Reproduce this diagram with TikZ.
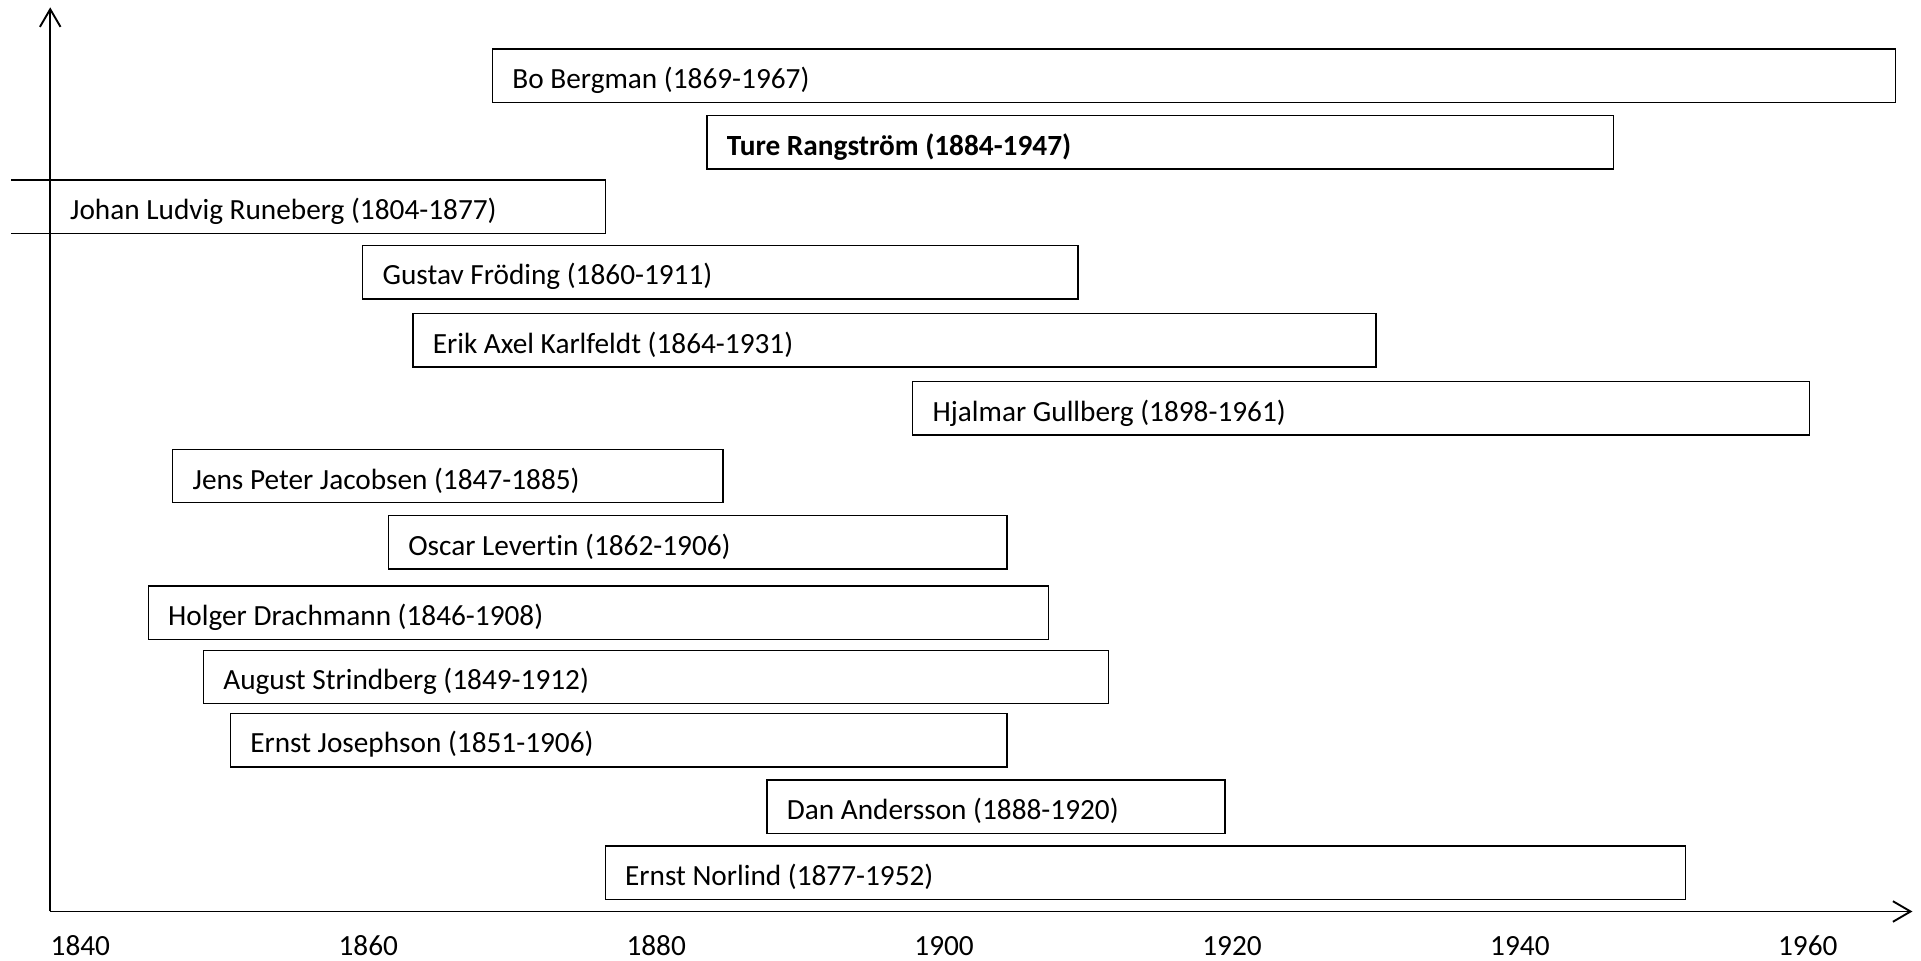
\documentclass[tikz,border=0pt]{standalone}
\usepackage{fontspec}
\setmainfont{Carlito}[Ligatures=NoCommon]
\usetikzlibrary{arrows.meta}

\begin{document}
\begin{tikzpicture}[
  lifebox/.style={line width=0.8pt},
  poet/.style={anchor=west, inner sep=0pt, yshift=-0.09cm, font=\fontsize{17}{20}\selectfont},
  year/.style={font=\fontsize{17}{20}\selectfont},
  axis/.style={line width=1.1pt, -{Straight Barb[length=3.6mm,width=4.2mm]}}
]
\useasboundingbox (-1.025,-1) rectangle (38.175,18.6);
% axes
\coordinate (o) at (0,0);
\coordinate (xend) at (38.0,0);
\coordinate (yend) at (0,18.45);
\draw[axis] (o) -- (xend);
\draw[axis] (o) -- (yend);
% years
\node[year] (y1840) at (0.615,-0.7) {1840};
\node[year] (y1860) at (6.49,-0.7) {1860};
\node[year] (y1880) at (12.365,-0.7) {1880};
\node[year] (y1900) at (18.24,-0.7) {1900};
\node[year] (y1920) at (24.115,-0.7) {1920};
\node[year] (y1940) at (29.99,-0.7) {1940};
\node[year] (y1960) at (35.865,-0.7) {1960};
% life spans
\draw[lifebox] (9.025,16.51) rectangle (37.65,17.6);
\node[poet] (bergman) at (9.425,17.055) {Bo Bergman (1869-1967)};
\draw[lifebox] (13.4,15.15) rectangle (31.9,16.24);
\node[poet] (rangstrom) at (13.8,15.695) {\bfseries Ture Rangström (1884-1947)};
\draw[lifebox] (-0.8,14.93) -- (11.325,14.93) -- (11.325,13.84) -- (-0.8,13.84);
\node[poet] (runeberg) at (0.4,14.385) {Johan Ludvig Runeberg (1804-1877)};
\draw[lifebox] (6.375,12.5) rectangle (20.975,13.59);
\node[poet] (froding) at (6.775,13.045) {Gustav Fröding (1860-1911)};
\draw[lifebox] (7.4,11.11) rectangle (27.05,12.2);
\node[poet] (karlfeldt) at (7.8,11.655) {Erik Axel Karlfeldt (1864-1931)};
\draw[lifebox] (17.6,9.72) rectangle (35.9,10.81);
\node[poet] (gullberg) at (18.0,10.265) {Hjalmar Gullberg (1898-1961)};
\draw[lifebox] (2.5,8.34) rectangle (13.725,9.43);
\node[poet] (jacobsen) at (2.9,8.885) {Jens Peter Jacobsen (1847-1885)};
\draw[lifebox] (6.9,6.99) rectangle (19.525,8.08);
\node[poet] (levertin) at (7.3,7.535) {Oscar Levertin (1862-1906)};
\draw[lifebox] (2.0,5.55) rectangle (20.375,6.64);
\node[poet] (drachmann) at (2.4,6.095) {Holger Drachmann (1846-1908)};
\draw[lifebox] (3.125,4.24) rectangle (21.6,5.33);
\node[poet] (strindberg) at (3.525,4.785) {August Strindberg (1849-1912)};
\draw[lifebox] (3.675,2.95) rectangle (19.525,4.04);
\node[poet] (josephson) at (4.075,3.495) {Ernst Josephson (1851-1906)};
\draw[lifebox] (14.625,1.59) rectangle (23.975,2.68);
\node[poet] (andersson) at (15.025,2.135) {Dan Andersson (1888-1920)};
\draw[lifebox] (11.325,0.25) rectangle (33.375,1.34);
\node[poet] (norlind) at (11.725,0.795) {Ernst Norlind (1877-1952)};
\end{tikzpicture}
\end{document}
